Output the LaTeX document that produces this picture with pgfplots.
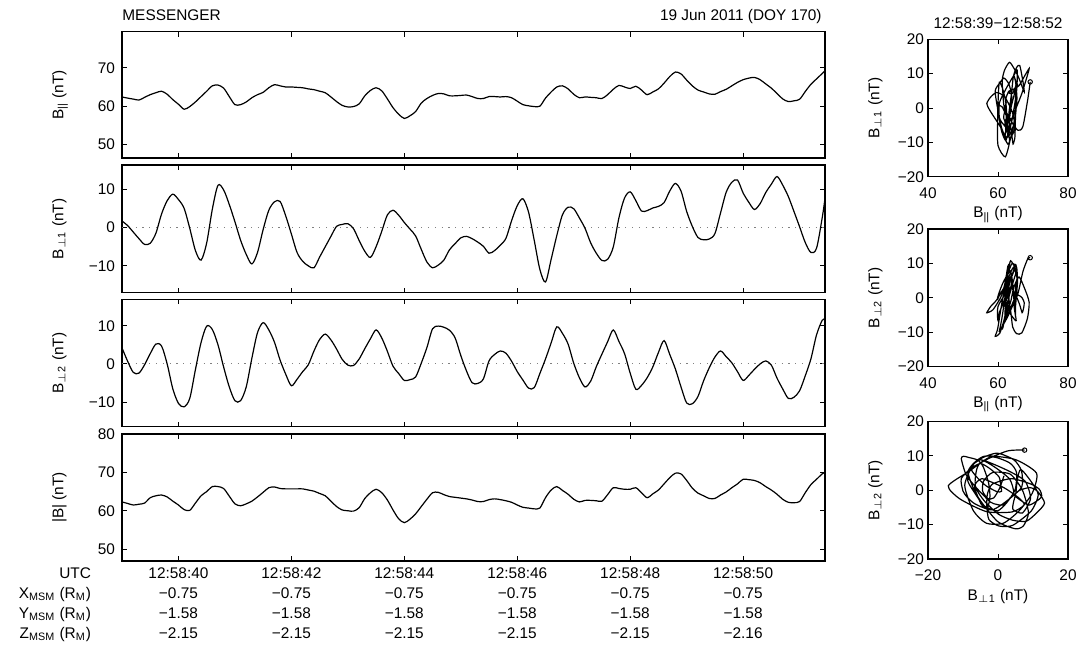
\documentclass[border=0pt]{standalone}
\usepackage{pgfplots}
\pgfplotsset{compat=1.18}
\usepackage{pgfplotstable}
\usepackage{fontspec}
\setmainfont{Liberation Sans}

\pgfplotstableread{
t bpar b1 b2 bmag
39.0  62.4  1.7   4.2   62.3
39.1  62.1  0.5   0.7   61.9
39.2  61.85 -1.2  -2.2  61.5
39.3  61.6  -2.9  -2.4  61.7
39.4  62.3  -4.4  -0.2  62.0
39.5  63.0  -4.1  2.7   63.4
39.6  63.5  -1.5  5.2   63.9
39.7  63.9  3.5   4.7   64.1
39.8  63.1  7.0   0.0   63.6
39.9  61.7  8.7   -6.5  62.5
40.0  60.5  7.3   -10.3 61.5
40.1  59.2  5.0   -11.2 60.3
40.2  59.9  -0.2  -9.0  60.1
40.3  61.1  -6.0  -1.5  62.0
40.4  62.5  -8.5  5.6   63.9
40.5  63.9  -4.0  9.9   65.0
40.6  65.3  4.8   9.0   66.3
40.7  65.5  11.0  5.0   66.3
40.8  64.7  9.8   -0.8  65.8
40.9  62.5  6.0   -6.0  63.8
41.0  60.4  1.5   -9.6  61.8
41.1  60.4  -3.3  -9.6  61.3
41.2  61.1  -7.0  -6.0  61.8
41.3  62.2  -9.5  1.5   62.5
41.4  63.0  -6.5  8.2   63.6
41.5  63.6  -0.5  10.8  64.8
41.6  64.8  4.5   8.9   66.0
41.7  65.6  6.7   5.7   66.2
41.8  65.3  6.8   1.0   65.8
41.9  65.0  3.0   -2.7  65.7
42.0  65.0  -1.7  -5.7  65.7
42.1  64.9  -6.5  -4.0  65.7
42.2  64.8  -8.8  -2.0  65.7
42.3  64.5  -10.0 -0.2  65.4
42.4  64.3  -10.5 3.4   65.1
42.5  63.9  -7.7  6.4   64.5
42.6  63.5  -5.0  7.8   63.9
42.7  62.4  -2.3  6.3   62.5
42.8  61.2  0.3   3.9   61.1
42.9  60.2  0.8   1.2   60.2
43.0  59.8  1.0   -0.3  60.0
43.1  59.9  -0.3  -0.4  59.9
43.2  60.6  -3.4  1.3   60.8
43.3  62.7  -6.2  4.0   63.2
43.4  64.1  -7.8  6.6   64.7
43.5  64.8  -5.0  8.9   65.6
43.6  64.0  -1.0  6.8   64.7
43.7  61.9  3.3   3.3   62.8
43.8  59.6  4.5   -0.6  60.2
43.9  57.9  3.2   -2.5  57.9
44.0  56.8  1.3   -4.3  56.9
44.1  57.5  -0.4  -4.1  57.8
44.2  58.6  -2.2  -3.4  59.2
44.3  60.8  -5.7  0.2   61.1
44.4  62.0  -9.0  4.3   63.0
44.5  62.8  -10.5 9.2   64.7
44.6  63.3  -9.8  9.9   64.8
44.7  63.2  -8.5  9.6   64.2
44.8  62.7  -5.8  8.8   63.7
44.9  62.7  -4.2  6.8   63.5
45.0  62.8  -2.7  2.2   63.3
45.1  62.9  -2.3  -1.8  63.1
45.2  62.5  -2.9  -4.9  62.8
45.3  62.0  -3.8  -5.1  62.4
45.4  62.0  -4.9  -3.9  62.4
45.5  62.5  -6.7  0.8   62.9
45.6  62.5  -6.0  2.5   63.1
45.7  62.4  -4.6  3.4   62.9
45.8  62.5  -2.8  2.8   62.6
45.9  62.2  1.8   0.7   62.2
46.0  61.3  5.7   -2.0  61.5
46.1  60.4  7.5   -4.2  60.9
46.2  60.1  4.0   -6.3  60.7
46.3  59.9  -3.3  -6.2  60.5
46.4  60.0  -10.9 -2.5  60.7
46.5  62.1  -14.2 1.3   63.4
46.6  63.7  -8.3  5.5   65.4
46.7  65.0  -2.1  9.7   66.3
46.8  65.3  3.3   8.0   65.3
46.9  64.5  5.3   5.2   64.3
47.0  63.1  4.9   0.2   63.0
47.1  62.2  2.5   -3.6  62.3
47.2  62.4  -0.2  -6.0  62.7
47.3  62.3  -4.0  -4.5  62.7
47.4  62.2  -6.7  -0.7  62.6
47.5  62.0  -8.6  2.6   62.5
47.6  63.0  -8.3  5.8   64.2
47.7  64.4  -5.1  8.9   66.0
47.8  65.4  2.5   5.9   65.8
47.9  65.0  7.7   2.7   65.6
48.0  64.6  9.3   -2.4  65.6
48.1  65.2  7.0   -6.6  66.0
48.2  64.2  4.3   -5.6  64.7
48.3  63.0  4.4   -3.6  63.4
48.4  63.7  5.1   -0.8  64.4
48.5  64.5  5.5   3.0   65.4
48.6  66.0  6.5   6.1   67.0
48.7  67.7  9.5   2.5   68.6
48.8  68.9  11.5  -1.3  69.8
48.9  68.4  9.5   -6.0  69.6
49.0  66.8  4.2   -10.2 67.9
49.1  65.3  0.3   -10.4 65.9
49.2  64.2  -2.6  -8.5  64.6
49.3  63.7  -3.2  -4.4  63.9
49.4  63.2  -3.0  -1.0  63.2
49.5  63.1  -1.6  1.8   63.2
49.6  63.8  3.8   3.4   64.1
49.7  64.4  9.2   1.9   64.9
49.8  65.3  11.8  0.3   66.0
49.9  66.2  12.4  -2.0  67.0
50.0  66.9  9.0   -4.3  68.2
50.1  67.3  6.6   -3.0  68.1
50.2  67.5  4.7   -1.4  67.9
50.3  66.9  6.2   0.0   67.3
50.4  65.8  9.1   0.8   66.3
50.5  64.7  11.3  -0.3  65.4
50.6  63.3  13.3  -3.7  64.3
50.7  61.9  11.1  -6.5  63.0
50.8  61.2  8.1   -9.0  62.2
50.9  61.4  4.2   -8.7  62.1
51.0  61.8  0.2   -7.0  62.4
51.1  63.8  -3.9  -3.1  64.7
51.2  65.7  -6.5  1.3   66.8
51.3  67.1  -5.4  7.6   68.2
51.4  68.5  2.5   11.4  69.6
51.45 69.2  7.6   11.7  70.0
}\data

\newcommand{\Bpar}{B\textsubscript{||} (nT)}
\newcommand{\Bpa}{B\textsubscript{$\perp$1} (nT)}
\newcommand{\Bpb}{B\textsubscript{$\perp$2} (nT)}

\pgfplotsset{
  base/.style={
    scale only axis,
    font=\fontsize{7.7}{10}\selectfont,
    axis line style={line width=0.75pt},
    tick style={line width=0.5pt, black},
    major tick length=2.5pt,
    tick align=inside,
    xtick pos=both, ytick pos=both,
    minor tick num=0,
  },
  ser/.style={black, line width=0.6pt, mark=none, smooth, tension=0.5},
  ts/.style={
    base,
    width=351.5pt,
    xmin=39, xmax=51.45,
    xtick={40,42,44,46,48,50},
    xticklabels={},
    xticklabel shift=0pt,
    ylabel style={at={(axis description cs:-0.0835,0.5)}, anchor=base},
  },
  hodo/.style={
    base,
    width=70pt, height=68.7pt,
    ymin=-20, ymax=20,
    ytick={-20,-10,0,10,20},
    yticklabels={−20,−10,0,10,20},
    xticklabel shift=2pt,
    yticklabel shift=-1.5pt,
    ylabel style={at={(axis description cs:-0.348,0.5)}, anchor=base},
    xlabel style={at={(axis description cs:0.5,0)}, anchor=base, yshift=-20.5pt},
  },
  zeroline/.style={gray, line width=0.5pt, dash pattern=on 0.6pt off 2.8pt},
  endmark/.style={black, line width=0.6pt, smooth, tension=0.4, mark=o, mark indices={126}, mark size=1.1pt, mark options={solid, line width=0.5pt}},
}

\begin{document}
\begin{tikzpicture}[font=\fontsize{7.7}{10}\selectfont]
\useasboundingbox (0,0) rectangle (544pt,-324.5pt);

% Panel 1: B parallel
\begin{axis}[ts, at={(61pt,-15.85pt)}, anchor=north west, height=63.15pt,
  ymin=46.5, ymax=79.4, ytick={50,60,70}, yticklabels={50,60,70},
  ylabel={\Bpar}]
\addplot[ser] table[x=t,y=bpar]{\data};
\end{axis}
\node[anchor=base west, inner sep=0pt] at (61pt,-10.35pt) {MESSENGER};
\node[anchor=base east, inner sep=0pt] at (411pt,-10.35pt) {19 Jun 2011 (DOY 170)};

% Panel 2: B perp 1
\begin{axis}[ts, at={(61pt,-82.5pt)}, anchor=north west, height=63.85pt,
  ymin=-17.0, ymax=16.3, ytick={-10,0,10}, yticklabels={−10,0,10},
  ylabel={\Bpa}]
\addplot[zeroline] coordinates {(39,0) (51.45,0)};
\addplot[ser] table[x=t,y=b1]{\data};
\end{axis}

% Panel 3: B perp 2
\begin{axis}[ts, at={(61pt,-149.65pt)}, anchor=north west, height=63.7pt,
  ymin=-16.4, ymax=16.9, ytick={-10,0,10}, yticklabels={−10,0,10},
  ylabel={\Bpb}]
\addplot[zeroline] coordinates {(39,0) (51.45,0)};
\addplot[ser] table[x=t,y=b2]{\data};
\end{axis}

% Panel 4: |B|
\begin{axis}[ts, name=p4, at={(61pt,-217pt)}, anchor=north west, height=63.5pt,
  ymin=46.9, ymax=80, ytick={50,60,70,80}, yticklabels={50,60,70,80},
  ylabel={|B| (nT)},
  xticklabel style={align=center},
  xticklabels={{12:58:40\\−0.75\\−1.58\\−2.15},{12:58:42\\−0.75\\−1.58\\−2.15},{12:58:44\\−0.75\\−1.58\\−2.15},{12:58:46\\−0.75\\−1.58\\−2.15},{12:58:48\\−0.75\\−1.58\\−2.15},{12:58:50\\−0.75\\−1.58\\−2.16}}]
\addplot[ser] table[x=t,y=bmag]{\data};
\end{axis}
\node[anchor=north east, align=right, xshift=-12pt] at (p4.south west) {UTC\\X\textsubscript{MSM} (R\textsubscript{M})\\Y\textsubscript{MSM} (R\textsubscript{M})\\Z\textsubscript{MSM} (R\textsubscript{M})};

% Hodogram A
\begin{axis}[hodo, at={(464pt,-19.65pt)}, anchor=north west,
  xmin=40, xmax=80, xtick={40,60,80}, xticklabels={40,60,80},
  xlabel={\Bpar}, ylabel={\Bpa}]
\addplot[endmark] table[x=bpar,y=b1]{\data};
\end{axis}
\node[anchor=base, inner sep=0pt] at (499pt,-14.15pt) {12:58:39−12:58:52};

% Hodogram B
\begin{axis}[hodo, at={(464pt,-114.6pt)}, anchor=north west,
  xmin=40, xmax=80, xtick={40,60,80}, xticklabels={40,60,80},
  xlabel={\Bpar}, ylabel={\Bpb}]
\addplot[endmark] table[x=bpar,y=b2]{\data};
\end{axis}

% Hodogram C
\begin{axis}[hodo, at={(464pt,-210.8pt)}, anchor=north west,
  xmin=-20, xmax=20, xtick={-20,0,20}, xticklabels={−20,0,20},
  xlabel={\Bpa}, ylabel={\Bpb}]
\addplot[endmark] table[x=b1,y=b2]{\data};
\end{axis}

\end{tikzpicture}
\end{document}
